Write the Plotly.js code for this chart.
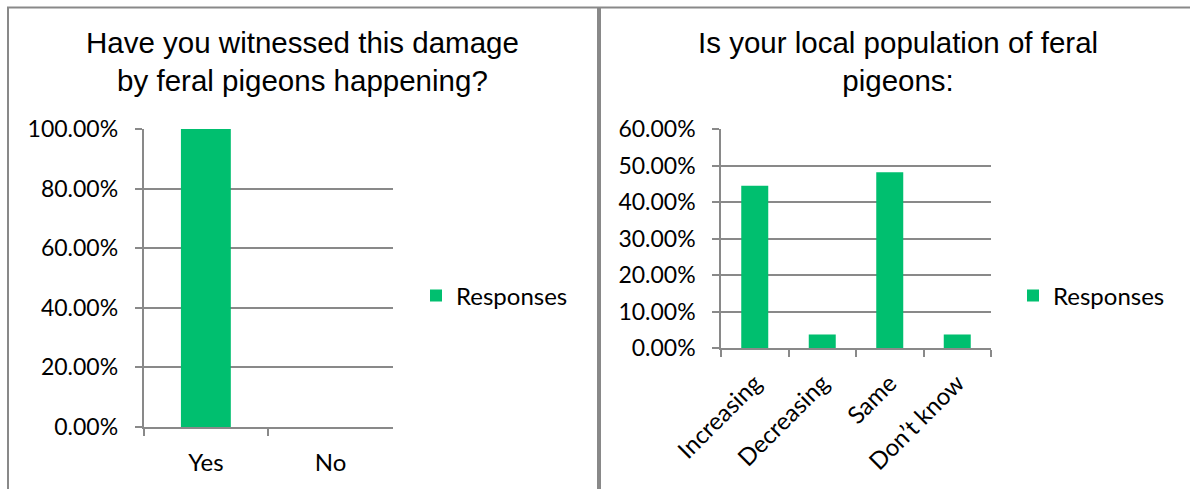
<!DOCTYPE html>
<html>
<head>
<meta charset="utf-8">
<script src="https://cdn.plot.ly/plotly-3.0.1.min.js"></script>
<style>
html,body{margin:0;padding:0;background:#fff;}
#chart{width:1190px;height:489px;}
</style>
</head>
<body>
<div id="chart"></div>
<script>
// ---- data ----
const witnessTitle = "Have you witnessed this damage<br>by feral pigeons happening?";
const witnessCategories = ["Yes", "No"];
const witnessValues = [1.0, 0.0];

const populationTitle = "Is your local population of feral<br>pigeons:";
const populationCategories = ["Increasing", "Decreasing", "Same", "Don\u2019t know"];
const populationValues = [0.4444, 0.0370, 0.4815, 0.0370];

const seriesName = "Responses";

// ---- styling ----
const W = 1190, H = 489;
const green = "#00BF6F";
const gray = "#898989";
const fam = "Lato, 'Noto Sans', sans-serif";
const yTickFont = {family: fam, size: 23, color: "#000"};
const xTickFont = {family: fam, size: 24, color: "#000"};
const legendFont = {family: fam, size: 24, color: "#000"};
const titleFont = {family: "'Liberation Sans', Arial, sans-serif", size: 29.5, color: "#000"};
const px = v => v / W;
const py = v => 1 - v / H;

const traces = [
  {type: "bar", x: witnessCategories, y: witnessValues, name: seriesName,
   marker: {color: green}, xaxis: "x", yaxis: "y", legend: "legend", showlegend: true,
   hoverinfo: "x+y"},
  {type: "bar", x: populationCategories, y: populationValues, name: seriesName,
   marker: {color: green}, xaxis: "x2", yaxis: "y2", legend: "legend2", showlegend: true,
   hoverinfo: "x+y"}
];

const xCommon = {
  type: "category", showline: true, linecolor: gray, linewidth: 1.5,
  ticks: "outside", tickson: "boundaries", ticklen: 7, tickcolor: gray, tickwidth: 1.5,
  showgrid: false, zeroline: false, tickfont: xTickFont, fixedrange: true
};
const yCommon = {
  showline: true, linecolor: gray, linewidth: 1.5,
  ticks: "outside", ticklen: 7, tickcolor: gray, tickwidth: 1.5,
  showgrid: true, gridcolor: gray, gridwidth: 1.5, zeroline: false,
  tickformat: ".2%", tickfont: yTickFont, ticklabelstandoff: 12, fixedrange: true
};

const layout = {
  width: W, height: H,
  margin: {l: 0, r: 0, t: 0, b: 0},
  paper_bgcolor: "#fff", plot_bgcolor: "#fff",
  bargap: 0.6,
  xaxis: Object.assign({}, xCommon, {domain: [px(143.5), px(393)], anchor: "y", tickangle: 0, ticklabelstandoff: 13}),
  yaxis: Object.assign({}, yCommon, {domain: [py(427), py(129)], anchor: "x", range: [0, 1], dtick: 0.2}),
  xaxis2: Object.assign({}, xCommon, {domain: [px(721), px(991)], anchor: "y2", tickangle: -45, ticklabelstandoff: 10}),
  yaxis2: Object.assign({}, yCommon, {domain: [py(348), py(129)], anchor: "x2", range: [0, 0.6], dtick: 0.1}),
  legend: {x: px(416), y: py(296), xanchor: "left", yanchor: "middle",
           font: legendFont, bgcolor: "rgba(0,0,0,0)", borderwidth: 0},
  legend2: {x: px(1013), y: py(296), xanchor: "left", yanchor: "middle",
            font: legendFont, bgcolor: "rgba(0,0,0,0)", borderwidth: 0},
  annotations: [
    {text: witnessTitle, xref: "paper", yref: "paper", x: px(302.5), y: py(61),
     xanchor: "center", yanchor: "middle", showarrow: false, font: titleFont, align: "center"},
    {text: populationTitle, xref: "paper", yref: "paper", x: px(898), y: py(62),
     xanchor: "center", yanchor: "middle", showarrow: false, font: titleFont, align: "center"}
  ],
  shapes: [
    {type: "line", xref: "paper", yref: "paper", x0: px(7), x1: 1, y0: py(7.5), y1: py(7.5),
     line: {color: gray, width: 2}},
    {type: "line", xref: "paper", yref: "paper", x0: px(8), x1: px(8), y0: py(7), y1: 0,
     line: {color: gray, width: 2}},
    {type: "line", xref: "paper", yref: "paper", x0: px(599), x1: px(599), y0: py(7), y1: 0,
     line: {color: gray, width: 4}}
  ]
};

Plotly.newPlot("chart", traces, layout, {displayModeBar: false, staticPlot: false});
</script>
</body>
</html>
